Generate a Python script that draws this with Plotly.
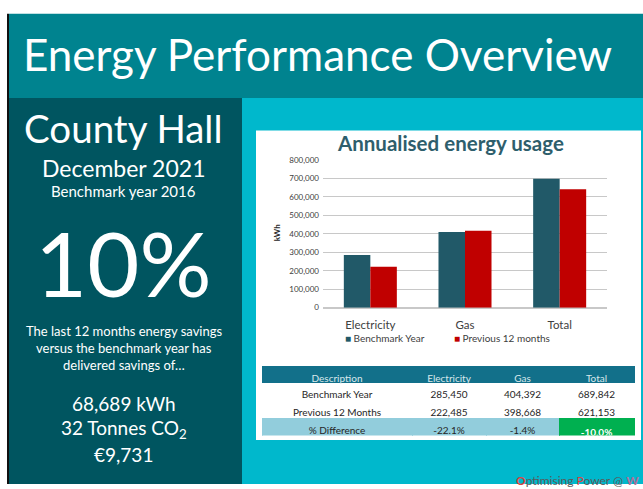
import plotly.graph_objects as go

W, H = 643, 489
FONT = "Lato"

# ---------------- data ----------------
categories = ["Electricity", "Gas", "Total"]
series_names = ["Benchmark Year", "Previous 12 months"]
benchmark_kwh = [285000, 409000, 697000]
previous_kwh = [221000, 416000, 640000]

y_ticks = [0, 100000, 200000, 300000, 400000, 500000, 600000, 700000, 800000]

table_header = ["Description", "Electricity", "Gas", "Total"]
table_desc = ["Benchmark Year", "Previous 12 Months", "% Difference"]
table_elec = ["285,450", "222,485", "-22.1%"]
table_gas = ["404,392", "398,668", "-1.4%"]
table_total = ["689,842", "621,153", "-10.0%"]

page_title = "Energy Performance Overview"
site_name = "County Hall"
report_month = "December 2021"
benchmark_note = "Benchmark year 2016"
saving_pct = "10%"
saving_text = ["The last 12 months energy savings", "versus the benchmark year has", "delivered savings of…"]
saving_figures = ["68,689 kWh", "32 Tonnes CO<sub>2</sub>", "€9,731"]
chart_title = "Annualised energy usage"
y_title = "kWh"

# ---------------- colours ----------------
C_HEAD = "#00838F"
C_LEFT = "#005560"
C_CYAN = "#00B8CC"
C_TEAL = "#215968"
C_RED = "#C00000"
C_TBL_HEAD = "#12708A"
C_LBLUE = "#92CDDC"
C_GREEN = "#00B050"


def X(px):
    return px / W


def Y(py):
    return 1 - py / H


fig = go.Figure()

fig.add_trace(go.Bar(x=categories, y=benchmark_kwh, name=series_names[0],
                     marker=dict(color=C_TEAL, line=dict(width=0)), showlegend=False))
fig.add_trace(go.Bar(x=categories, y=previous_kwh, name=series_names[1],
                     marker=dict(color=C_RED, line=dict(width=0)), showlegend=False))

# table
dark = "#262626"
fill_cols = [["white", "white", C_LBLUE]] * 3 + [["white", "white", C_GREEN]]
font_cols = [[dark, dark, dark]] * 3 + [[dark, dark, "white"]]
total_cells = table_total[:2] + ["<b>" + table_total[2] + "</b>"]
fig.add_trace(go.Table(
    domain=dict(x=[X(262), X(634)], y=[Y(440), Y(369)]),
    columnwidth=[150, 74, 73, 75],
    header=dict(values=table_header, fill_color=C_TBL_HEAD,
                font=dict(family=FONT, size=10, color="#D8E8EC"),
                line=dict(color=C_TBL_HEAD, width=1), height=16, align="center"),
    cells=dict(values=[table_desc, table_elec, table_gas, total_cells],
               fill_color=fill_cols,
               font=dict(family=FONT, size=10, color=font_cols),
               line=dict(color=fill_cols, width=1), height=18, align="center"),
))

shapes = [
    dict(type="rect", x0=X(0), x1=X(W), y0=Y(H), y1=Y(0), fillcolor="white", line_width=0, layer="below"),
    dict(type="rect", x0=X(9), x1=X(W), y0=Y(95), y1=Y(9), fillcolor=C_HEAD, line_width=0, layer="below"),
    dict(type="rect", x0=X(9), x1=X(242), y0=Y(H), y1=Y(95), fillcolor=C_LEFT, line_width=0, layer="below"),
    dict(type="rect", x0=X(242), x1=X(W), y0=Y(H), y1=Y(95), fillcolor=C_CYAN, line_width=0, layer="below"),
    dict(type="rect", x0=X(256), x1=X(641), y0=Y(444), y1=Y(128), fillcolor="white", line_width=0, layer="below"),
    dict(type="line", x0=X(8), x1=X(8), y0=Y(H), y1=Y(9), line=dict(color="#111111", width=2), layer="below"),
]
for s in shapes:
    s["xref"] = "paper"
    s["yref"] = "paper"

ann = []


def text(px, py, t, size, color="white", bold=False, anchor="center", family=FONT):
    ann.append(dict(x=X(px), y=Y(py), xref="paper", yref="paper", text=("<b>%s</b>" % t) if bold else t,
                    showarrow=False, xanchor=anchor, yanchor="middle",
                    font=dict(family=family, size=size, color=color)))


text(317, 50, page_title, 44)
text(124, 126, site_name, 38.5)
text(124, 166, report_month, 23)
text(124, 190, benchmark_note, 15)
text(124, 262, saving_pct, 90)
for i, line in enumerate(saving_text):
    text(124, 333 + i * 17.5, line, 13)
for i, line in enumerate(saving_figures):
    text(124, 407 + i * 26, line, 19)

text(450, 141, chart_title, 20.5, color="#2E5E6C", bold=True)
ann.append(dict(x=X(277), y=Y(233), xref="paper", yref="paper", text="<b>%s</b>" % y_title, textangle=-90,
                showarrow=False, xanchor="center", yanchor="middle",
                font=dict(family=FONT, size=8, color="#262626")))

# legend (manual)
legend_x = [343, 452]
legend_cols = [C_TEAL, C_RED]
for lx, name, col in zip(legend_x, series_names, legend_cols):
    ann.append(dict(x=X(lx), y=Y(340), xref="paper", yref="paper",
                    text="<span style='color:%s'>■</span> %s" % (col, name),
                    showarrow=False, xanchor="left", yanchor="middle",
                    font=dict(family=FONT, size=10, color="#404040")))

# footer
ann.append(dict(x=X(514), y=Y(485), xref="paper", yref="paper",
                text="<span style='color:#E0403C'><b>O</b></span>ptimising <span style='color:#E0403C'>P</span>ower @ <span style='color:#B0709A'><b>W</b></span>",
                showarrow=False, xanchor="left", yanchor="middle",
                font=dict(family=FONT, size=12, color="#5A5A5A")))

fig.update_layout(
    width=W, height=H, margin=dict(l=0, r=0, t=0, b=0),
    paper_bgcolor="white", plot_bgcolor="rgba(0,0,0,0)",
    barmode="group", bargap=0.44, bargroupgap=0,
    shapes=shapes, annotations=ann, showlegend=False,
    xaxis=dict(domain=[X(323), X(607)], showgrid=False, showline=False, ticks="",
               tickfont=dict(family=FONT, size=11.5, color="#404040"), ticklabelstandoff=9,
               fixedrange=True),
    yaxis=dict(domain=[Y(309), Y(158)], range=[0, 800000], tickvals=y_ticks, tickformat=",",
               showgrid=True, gridcolor="#C8C8C8", gridwidth=1, zeroline=True, zerolinecolor="#C8C8C8",
               tickfont=dict(family=FONT, size=8, color="#404040"), ticks="", ticklabelstandoff=3,
               fixedrange=True),
)

fig.write_html("out.html", config={"displayModeBar": False},
               post_script="document.body.style.margin='0';document.body.style.overflow='hidden';")
